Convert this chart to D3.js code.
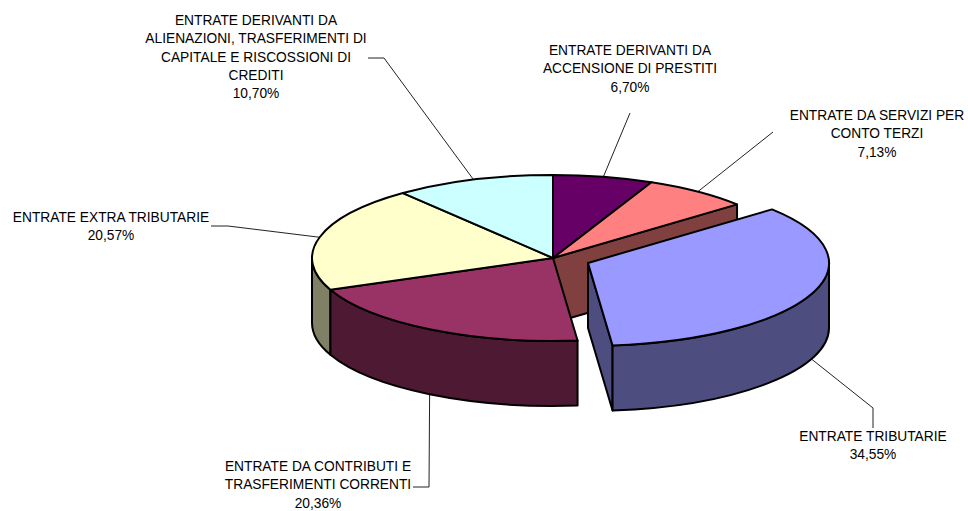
<!DOCTYPE html>
<html><head><meta charset="utf-8">
<script src="https://cdn.jsdelivr.net/npm/d3@7"></script>
<style>html,body{margin:0;padding:0;background:#fff}svg{display:block}
text{font-family:"Liberation Sans",Arial,sans-serif;font-size:13.75px;fill:#000;text-anchor:middle}</style>
</head><body><svg id="c" width="968" height="511"></svg>
<script>
const categories = ["ENTRATE DERIVANTI DA ACCENSIONE DI PRESTITI","ENTRATE DA SERVIZI PER CONTO TERZI","ENTRATE TRIBUTARIE","ENTRATE DA CONTRIBUTI E TRASFERIMENTI CORRENTI","ENTRATE EXTRA TRIBUTARIE","ENTRATE DERIVANTI DA ALIENAZIONI, TRASFERIMENTI DI CAPITALE E RISCOSSIONI DI CREDITI"];
const values = [6.70,7.13,34.55,20.36,20.57,10.70];
const valueLabels = ["6,70%","7,13%","34,55%","20,36%","20,57%","10,70%"];
const labelLines = [
 ["ENTRATE DERIVANTI DA","ACCENSIONE DI PRESTITI"],
 ["ENTRATE DA SERVIZI PER","CONTO TERZI"],
 ["ENTRATE TRIBUTARIE"],
 ["ENTRATE DA CONTRIBUTI E","TRASFERIMENTI CORRENTI"],
 ["ENTRATE EXTRA TRIBUTARIE"],
 ["ENTRATE DERIVANTI DA","ALIENAZIONI, TRASFERIMENTI DI","CAPITALE E RISCOSSIONI DI","CREDITI"]
];
const topColors = ["#660066","#FF8080","#9999FF","#993366","#FFFFCC","#CCFFFF"];
const sideColors = ["#330033","#804040","#4D4D80","#4D1933","#808066","#668080"];

// layout
const cx=553, cy=258, rx=241, ry=83, depth=65, explodedIndex=2, explode=[35,5];
const labelPos=[[630,50],[877,115],[873,436],[318,466],[111,217],[256,20]];
const leaderElbows=[[[630,113]],[[773,132]],[[873,408],[873,428]],[[429,487],[413,487]],[[228,226],[211,226]],[[384,58],[368,58]]];
const leaderOnWall=[false,false,true,true,false,false];

const X=d3.scaleLinear().domain([-1,1]).range([cx-rx,cx+rx]);
const Y=d3.scaleLinear().domain([-1,1]).range([cy-ry,cy+ry]);
const arcs=d3.pie().sort(null)(values);
const svg=d3.select("#c");
const off=i=>i===explodedIndex?explode:[0,0];
const pt=(a,i,d=0)=>[X(Math.sin(a))+off(i)[0],Y(-Math.cos(a))+off(i)[1]+d];
const ctr=(i,d=0)=>[cx+off(i)[0],cy+off(i)[1]+d];
const f=p=>p[0].toFixed(2)+" "+p[1].toFixed(2);
const ell=(to,sweep)=>`A${rx} ${ry} 0 0 ${sweep} ${f(to)}`;

// leader lines
const line=d3.line();
arcs.forEach((a,i)=>{
  const mid=(a.startAngle+a.endAngle)/2;
  const s=pt(mid,i,leaderOnWall[i]?depth:0);
  svg.append("path").attr("d",line([s,...leaderElbows[i]])).attr("fill","none").attr("stroke","#222").attr("stroke-width",1);
});

const stroke=g=>g.attr("stroke","#000").attr("stroke-width",2).attr("stroke-linejoin","round");

// back-facing cut wall of the slice behind the exploded one
const s1=arcs[1];
svg.append("path").call(stroke).attr("fill",sideColors[1])
  .attr("d",`M${f(ctr(1))}L${f(pt(s1.endAngle,1))}L${f(pt(s1.endAngle,1,depth))}L${f(ctr(1,depth))}Z`);

// outer walls: only the front half of the rim (angles pi/2..3pi/2) is seen
function drawWall(i){
  const a=arcs[i];
  const s=Math.max(a.startAngle,Math.PI/2), e=Math.min(a.endAngle,1.5*Math.PI);
  if(e<=s) return;
  svg.append("path").call(stroke).attr("fill",sideColors[i])
    .attr("d",`M${f(pt(s,i))}${ell(pt(e,i),1)}L${f(pt(e,i,depth))}${ell(pt(s,i,depth),0)}Z`);
}
function drawTop(i){
  const a=arcs[i];
  svg.append("path").call(stroke).attr("fill",topColors[i])
    .attr("d",`M${f(ctr(i))}L${f(pt(a.startAngle,i))}${ell(pt(a.endAngle,i),1)}Z`);
}
[4,3].forEach(drawWall);
[0,1,3,4,5].forEach(drawTop);

// exploded slice
const b=arcs[explodedIndex];
svg.append("path").call(stroke).attr("fill",sideColors[explodedIndex])
  .attr("d",`M${f(ctr(2))}L${f(pt(b.endAngle,2))}L${f(pt(b.endAngle,2,depth))}L${f(ctr(2,depth))}Z`);
drawWall(2); drawTop(2);

// labels
labelLines.forEach((ls,i)=>{
  const t=svg.append("text").attr("x",labelPos[i][0]).attr("y",labelPos[i][1]+5);
  [...ls,valueLabels[i]].forEach((s,k)=>t.append("tspan").attr("x",labelPos[i][0]).attr("dy",k?18.3:0).text(s));
});
</script></body></html>
